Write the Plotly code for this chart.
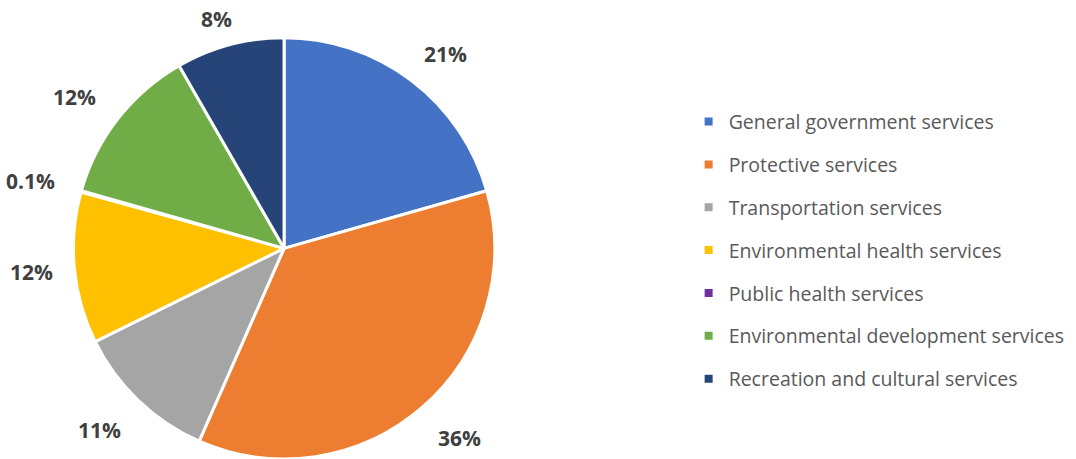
import math
import plotly.graph_objects as go

categories = ["General government services", "Protective services", "Transportation services",
              "Environmental health services", "Public health services",
              "Environmental development services", "Recreation and cultural services"]
values = [20.6, 36.0, 11.1, 11.6, 0.1, 12.3, 8.3]
pct_labels = ["21%", "36%", "11%", "12%", "0.1%", "12%", "8%"]
colors = ["#4472C4", "#ED7D31", "#A5A5A5", "#FFC000", "#7030A0", "#70AD47", "#264478"]

W, H = 1076, 459
dom_x = [0.0660, 0.4620]
dom_y = [0.0, 0.918]

fig = go.Figure()
fig.add_trace(go.Pie(
    labels=categories, values=values,
    textinfo="none",
    marker=dict(colors=colors, line=dict(color="white", width=3)),
    sort=False, direction="clockwise", rotation=0,
    domain=dict(x=dom_x, y=dom_y),
    showlegend=False, hoverinfo="label+percent",
))
for i, (c, col) in enumerate(zip(categories, colors)):
    fig.add_trace(go.Scatter(
        x=[None], y=[None], mode="markers", name=c,
        marker=dict(symbol="square", size=8, color=col),
        legendgroup=f"g{i}", showlegend=True,
    ))

# data labels placed just outside each slice, at its mid angle
cx = (dom_x[0] + dom_x[1]) / 2 * W
cy = (1 - (dom_y[0] + dom_y[1]) / 2) * H
r = min((dom_x[1] - dom_x[0]) * W, (dom_y[1] - dom_y[0]) * H) / 2
total = sum(values)
cum = 0.0
label_font = dict(family="Open Sans, sans-serif", size=21, color="#404040", weight="bold")
for v, t in zip(values, pct_labels):
    mid = (cum + v / 2) / total * 2 * math.pi
    cum += v
    ux, uy = math.sin(mid), math.cos(mid)
    w_est, h_est = 12 * len(t) + 4, 21
    ext = (abs(ux) * w_est + abs(uy) * h_est) / 2
    d = r + 20 + ext
    px = cx + ux * d * (1 + 0.08 * abs(uy))
    py = cy - uy * d * (0.97 if uy > 0 else 1.0)
    px = max(px, w_est / 2 + 4)
    fig.add_annotation(x=px / W, y=1 - py / H, xref="paper", yref="paper",
                       text=t, showarrow=False, font=label_font,
                       xanchor="center", yanchor="middle")

fig.update_layout(
    width=W, height=H,
    margin=dict(l=0, r=0, t=0, b=0),
    paper_bgcolor="white", plot_bgcolor="white",
    xaxis=dict(visible=False), yaxis=dict(visible=False),
    legend=dict(x=0.640, y=0.777, xanchor="left", yanchor="top",
                font=dict(family="Open Sans, sans-serif", size=19.5, color="#595959"),
                tracegroupgap=14.5, itemsizing="trace"),
)
fig.write_html("out.html")
